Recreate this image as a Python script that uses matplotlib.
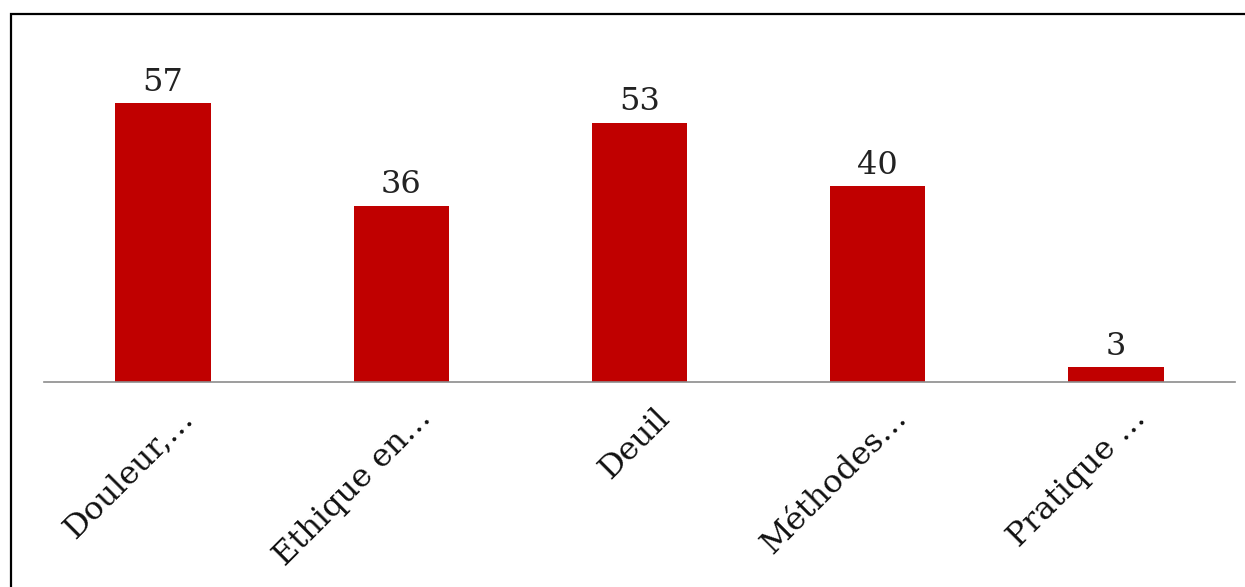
import matplotlib
matplotlib.use("Agg")
import matplotlib.pyplot as plt
from matplotlib.patches import Rectangle
from matplotlib.transforms import ScaledTranslation

categories = ["Douleur,…", "Ethique en…", "Deuil", "Méthodes…", "Pratique …"]
values = [57, 36, 53, 40, 3]

W, H = 1245, 587
fig = plt.figure(figsize=(W / 100, H / 100), dpi=100)
plt.rcParams['font.family'] = ['DejaVu Serif']

# axes: x from 44 to 1235 px, baseline at y=382 px, top at y=20 px
ax = fig.add_axes([44 / W, 1 - 382 / H, (1235 - 44) / W, (382 - 20) / H])
x = list(range(len(categories)))
bars = ax.bar(x, values, width=0.4, color="#C00000")
ax.set_xlim(-0.5, len(categories) - 0.5)
ax.set_ylim(0, 362 / 4.89)

for xi, v in zip(x, values):
    ax.annotate(str(v), (xi, v), xytext=(0, 9), textcoords="offset points",
                ha="center", va="baseline", fontsize=23, color="#222222")

for s in ["top", "right", "left"]:
    ax.spines[s].set_visible(False)
ax.spines["bottom"].set_color("#8c8c8c")
ax.spines["bottom"].set_linewidth(1.2)
ax.set_yticks([])
ax.set_xticks(x)
ax.set_xticklabels(categories, rotation=45, ha="right", va="baseline",
                   rotation_mode="anchor", fontsize=23, color="#111111")
ax.tick_params(axis="x", length=0, pad=27)
off = ScaledTranslation(0.31, 0, fig.dpi_scale_trans)
for lbl in ax.get_xticklabels():
    lbl.set_transform(lbl.get_transform() + off)

# outer frame
fig.patches.append(Rectangle((11 / W, -0.05), (W - 11 + 20) / W, 1.05 - 14 / H,
                             transform=fig.transFigure, fill=False,
                             edgecolor="black", linewidth=1.6))

fig.savefig("out.png", dpi=100)
